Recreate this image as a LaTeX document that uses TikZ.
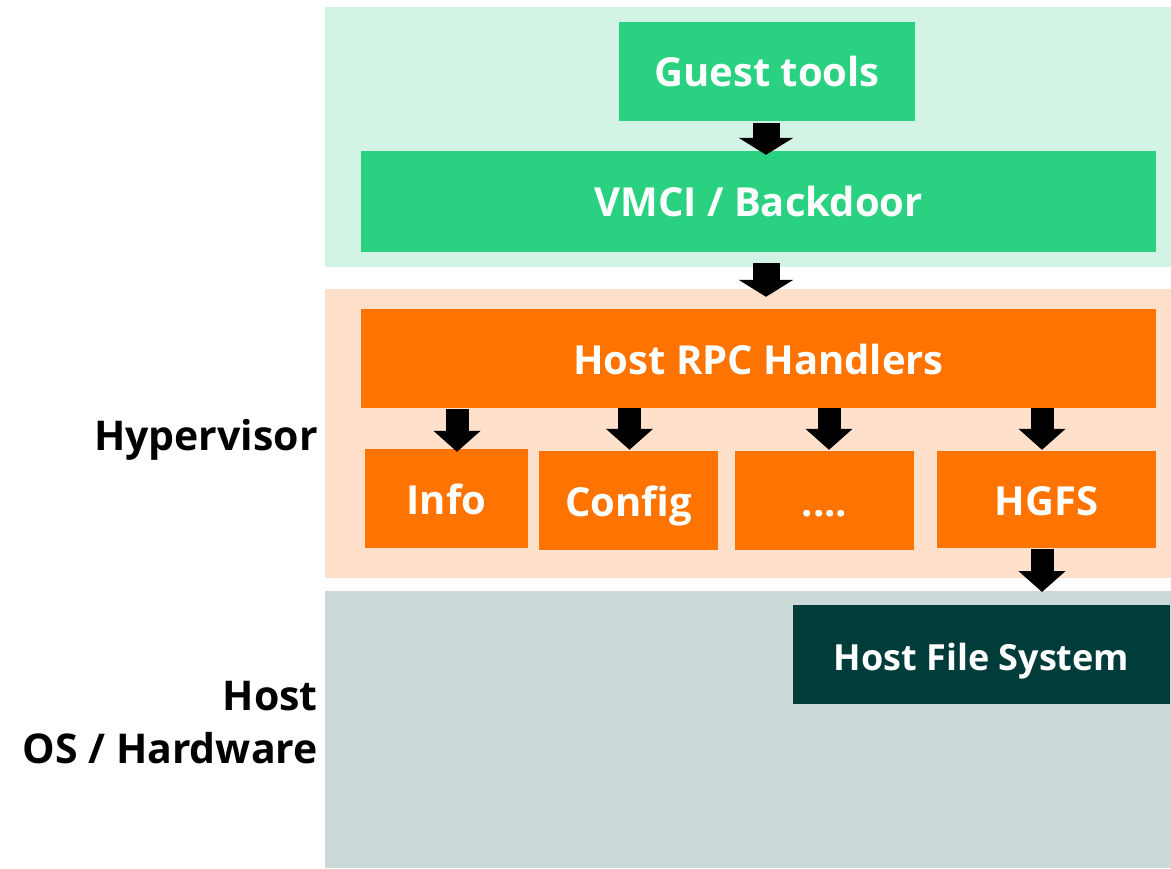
\documentclass[tikz,border=0pt]{standalone}
\usepackage{fontspec}
\setmainfont{Open Sans}
\usetikzlibrary{arrows.meta}
\definecolor{guestbg}{HTML}{D3F4E4}
\definecolor{guestbox}{HTML}{2AD181}
\definecolor{hypbg}{HTML}{FFE1CB}
\definecolor{hypbox}{HTML}{FF7300}
\definecolor{hostbg}{HTML}{CCD9D9}
\definecolor{hostbox}{HTML}{003D3A}
\tikzset{
  layer/.style={fill=#1, draw=none, inner sep=0pt, anchor=north west},
  box/.style={fill=#1, draw=none, text=white, inner sep=0pt,
    text height=31pt, text depth=0pt,
    font=\fontsize{40}{44}\selectfont\bfseries},
  sidelabel/.style={anchor=east, align=right, inner sep=0pt,
    font=\fontsize{41}{53}\selectfont\bfseries},
  bigarrow/.style={line width=27pt, -{Triangle[width=54pt,length=17pt]}},
  smallarrow/.style={line width=23pt, -{Triangle[width=46pt,length=21pt]}},
}
\begin{document}
\begin{tikzpicture}[x=1pt,y=-1pt]
\useasboundingbox (0,0) rectangle (1171,869);
% background layers
\node[layer=guestbg, minimum width=846pt, minimum height=260pt] (guestlayer) at (325,7) {};
\node[layer=hypbg, minimum width=846pt, minimum height=289pt] (hyplayer) at (325,289) {};
\node[layer=hostbg, minimum width=846pt, minimum height=277pt] (hostlayer) at (325,591) {};
% layer labels
\node[sidelabel] (hyplabel) at (318,440) {Hypervisor};
\node[sidelabel] (hostlabel) at (318,723) {Host\\OS / Hardware};
% guest side
\node[box=guestbox, minimum width=296pt, minimum height=99pt] (guest) at (767,71.5) {Guest tools};
\node[box=guestbox, minimum width=795pt, minimum height=101pt] (vmci) at (758.5,201.5) {VMCI / Backdoor};
% hypervisor side
\node[box=hypbox, minimum width=795pt, minimum height=99pt] (rpc) at (758.5,358.5) {Host RPC Handlers};
\node[box=hypbox, minimum width=163pt, minimum height=99pt] (info) at (446.5,498.5) {Info};
\node[box=hypbox, minimum width=179pt, minimum height=99pt] (config) at (628.5,500.5) {Config};
\node[box=hypbox, minimum width=179pt, minimum height=99pt] (more) at (824.5,500.5) {....};
\node[box=hypbox, minimum width=219pt, minimum height=97pt] (hgfs) at (1046.5,499.5) {HGFS};
% host side
\node[box=hostbox, minimum width=377pt, minimum height=99pt, font=\fontsize{36}{40}\selectfont\bfseries] (hfs) at (981.5,654.5) {Host File System};
% connectors
\draw[bigarrow] ([shift={(-1pt,-2pt)}]guest.south) -- ([shift={(7.5pt,-4pt)}]vmci.north);
\draw[bigarrow] ([shift={(7.5pt,-11pt)}]vmci.south) -- ([shift={(7.5pt,12pt)}]rpc.north);
\draw[smallarrow] (rpc.south -| info.north) ++(10.5pt,-1pt) -- ([shift={(10.5pt,-3pt)}]info.north);
\draw[smallarrow] ([shift={(1pt,0pt)}]config.north |- rpc.south) -- ([shift={(1pt,1pt)}]config.north);
\draw[smallarrow] ([shift={(4.5pt,0pt)}]more.north |- rpc.south) -- ([shift={(4.5pt,1pt)}]more.north);
\draw[smallarrow] ([shift={(-4.5pt,0pt)}]hgfs.north |- rpc.south) -- ([shift={(-4.5pt,1pt)}]hgfs.north);
\draw[smallarrow] ([shift={(-4.5pt,-1pt)}]hgfs.south) -- ([shift={(-4.5pt,-1pt)}]hgfs.south |- hostlayer.north);
\end{tikzpicture}
\end{document}
